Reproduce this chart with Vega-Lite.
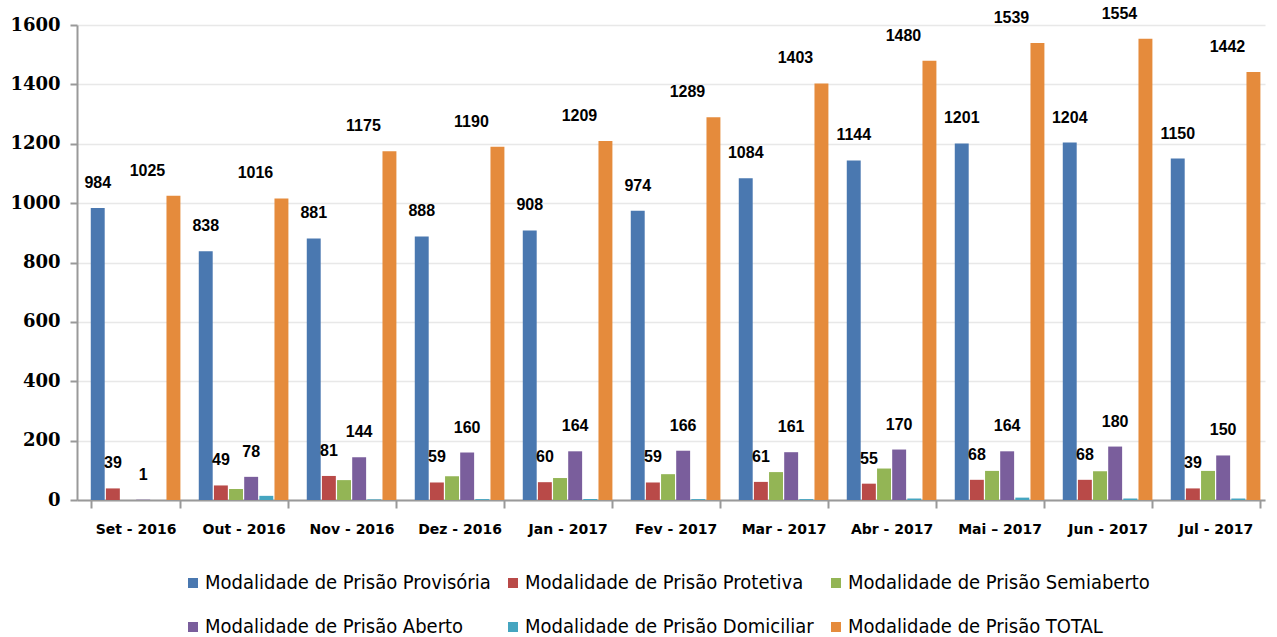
{
  "$schema": "https://vega.github.io/schema/vega-lite/v6.json",
  "width": 1188,
  "height": 475,
  "autosize": {"type": "none"},
  "padding": {"left": 77, "top": 25, "right": 12, "bottom": 137},
  "background": "white",
  "config": {"view": {"stroke": null}, "font": "Liberation Sans"},
  "data": {
    "values": [
      {"mes": "Set - 2016", "Modalidade de Prisão Provisória": 984, "Modalidade de Prisão Protetiva": 39, "Modalidade de Prisão Semiaberto": 0, "Modalidade de Prisão Aberto": 1, "Modalidade de Prisão Domiciliar": 0, "Modalidade de Prisão TOTAL": 1025},
      {"mes": "Out - 2016", "Modalidade de Prisão Provisória": 838, "Modalidade de Prisão Protetiva": 49, "Modalidade de Prisão Semiaberto": 37, "Modalidade de Prisão Aberto": 78, "Modalidade de Prisão Domiciliar": 14, "Modalidade de Prisão TOTAL": 1016},
      {"mes": "Nov - 2016", "Modalidade de Prisão Provisória": 881, "Modalidade de Prisão Protetiva": 81, "Modalidade de Prisão Semiaberto": 67, "Modalidade de Prisão Aberto": 144, "Modalidade de Prisão Domiciliar": 2, "Modalidade de Prisão TOTAL": 1175},
      {"mes": "Dez - 2016", "Modalidade de Prisão Provisória": 888, "Modalidade de Prisão Protetiva": 59, "Modalidade de Prisão Semiaberto": 80, "Modalidade de Prisão Aberto": 160, "Modalidade de Prisão Domiciliar": 3, "Modalidade de Prisão TOTAL": 1190},
      {"mes": "Jan - 2017", "Modalidade de Prisão Provisória": 908, "Modalidade de Prisão Protetiva": 60, "Modalidade de Prisão Semiaberto": 74, "Modalidade de Prisão Aberto": 164, "Modalidade de Prisão Domiciliar": 3, "Modalidade de Prisão TOTAL": 1209},
      {"mes": "Fev - 2017", "Modalidade de Prisão Provisória": 974, "Modalidade de Prisão Protetiva": 59, "Modalidade de Prisão Semiaberto": 87, "Modalidade de Prisão Aberto": 166, "Modalidade de Prisão Domiciliar": 3, "Modalidade de Prisão TOTAL": 1289},
      {"mes": "Mar - 2017", "Modalidade de Prisão Provisória": 1084, "Modalidade de Prisão Protetiva": 61, "Modalidade de Prisão Semiaberto": 94, "Modalidade de Prisão Aberto": 161, "Modalidade de Prisão Domiciliar": 3, "Modalidade de Prisão TOTAL": 1403},
      {"mes": "Abr - 2017", "Modalidade de Prisão Provisória": 1144, "Modalidade de Prisão Protetiva": 55, "Modalidade de Prisão Semiaberto": 106, "Modalidade de Prisão Aberto": 170, "Modalidade de Prisão Domiciliar": 5, "Modalidade de Prisão TOTAL": 1480},
      {"mes": "Mai – 2017", "Modalidade de Prisão Provisória": 1201, "Modalidade de Prisão Protetiva": 68, "Modalidade de Prisão Semiaberto": 98, "Modalidade de Prisão Aberto": 164, "Modalidade de Prisão Domiciliar": 8, "Modalidade de Prisão TOTAL": 1539},
      {"mes": "Jun - 2017", "Modalidade de Prisão Provisória": 1204, "Modalidade de Prisão Protetiva": 68, "Modalidade de Prisão Semiaberto": 97, "Modalidade de Prisão Aberto": 180, "Modalidade de Prisão Domiciliar": 5, "Modalidade de Prisão TOTAL": 1554},
      {"mes": "Jul - 2017", "Modalidade de Prisão Provisória": 1150, "Modalidade de Prisão Protetiva": 39, "Modalidade de Prisão Semiaberto": 98, "Modalidade de Prisão Aberto": 150, "Modalidade de Prisão Domiciliar": 5, "Modalidade de Prisão TOTAL": 1442}
    ]
  },
  "transform": [
    {"fold": ["Modalidade de Prisão Provisória", "Modalidade de Prisão Protetiva", "Modalidade de Prisão Semiaberto", "Modalidade de Prisão Aberto", "Modalidade de Prisão Domiciliar", "Modalidade de Prisão TOTAL"], "as": ["serie", "valor"]}
  ],
  "encoding": {
    "x": {
      "field": "mes", "type": "nominal", "sort": null, "title": null,
      "scale": {"paddingInner": 0.17, "paddingOuter": 0.085, "align": 0.75},
      "axis": {"labelAngle": 0, "labelFont": "DejaVu Sans", "labelFontWeight": "bold", "labelFontSize": 14, "labelColor": "#000", "labelPadding": 14, "tickBand": "extent", "tickSize": 8, "tickColor": "#999", "tickWidth": 2, "domainColor": "#999", "domainWidth": 2, "grid": false}
    },
    "xOffset": {"field": "serie", "sort": ["Modalidade de Prisão Provisória", "Modalidade de Prisão Protetiva", "Modalidade de Prisão Semiaberto", "Modalidade de Prisão Aberto", "Modalidade de Prisão Domiciliar", "Modalidade de Prisão TOTAL"], "scale": {"paddingInner": 0.08}},
    "y": {
      "field": "valor", "type": "quantitative", "title": null,
      "scale": {"domain": [0, 1600], "nice": false},
      "axis": {"values": [0, 200, 400, 600, 800, 1000, 1200, 1400, 1600], "format": "d", "labelFont": "DejaVu Serif", "labelFontWeight": "bold", "labelFontSize": 18, "labelColor": "#000", "labelPadding": 10, "tickSize": 7, "tickColor": "#999", "tickWidth": 2, "domainColor": "#999", "domainWidth": 2, "gridColor": "#e8e8e8", "gridWidth": 1.5}
    }
  },
  "layer": [
    {
      "mark": {"type": "bar"},
      "encoding": {
        "color": {
          "field": "serie", "type": "nominal",
          "scale": {"domain": ["Modalidade de Prisão Provisória", "Modalidade de Prisão Protetiva", "Modalidade de Prisão Semiaberto", "Modalidade de Prisão Aberto", "Modalidade de Prisão Domiciliar", "Modalidade de Prisão TOTAL"], "range": ["#4a78b0", "#b94a48", "#93b555", "#7a5e9c", "#45a5c0", "#e58b3c"]},
          "legend": {"orient": "none", "legendX": 106, "legendY": 548, "direction": "horizontal", "columns": 3, "title": null, "symbolType": "square", "symbolSize": 100, "symbolStrokeWidth": 0, "labelFont": "DejaVu Sans Condensed", "labelFontSize": 20, "labelColor": "#000", "labelLimit": 400, "labelOffset": 2, "rowPadding": 24, "columnPadding": 12}
        }
      }
    },
    {
      "transform": [{"filter": {"field": "serie", "oneOf": ["Modalidade de Prisão Provisória", "Modalidade de Prisão Protetiva", "Modalidade de Prisão Aberto"]}}],
      "mark": {"type": "text", "font": "Liberation Sans", "fontWeight": "bold", "fontSize": 16, "color": "#000", "baseline": "middle", "dy": -25},
      "encoding": {"text": {"field": "valor", "type": "quantitative"}}
    },
    {
      "transform": [{"filter": {"field": "serie", "equal": "Modalidade de Prisão TOTAL"}}],
      "mark": {"type": "text", "font": "Liberation Sans", "fontWeight": "bold", "fontSize": 16, "color": "#000", "baseline": "middle", "dy": -25, "dx": -26},
      "encoding": {"text": {"field": "valor", "type": "quantitative"}}
    }
  ]
}
